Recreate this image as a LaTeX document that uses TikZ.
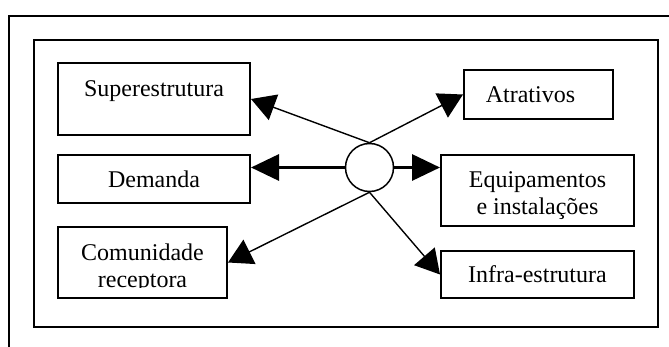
\documentclass[tikz,border=0pt]{standalone}
\usepackage{fontspec}
\setmainfont{Liberation Serif}
\usepackage{tikz}
\usetikzlibrary{shapes,arrows.meta,positioning,calc}

\begin{document}
\begin{tikzpicture}[x=1pt, y=-1pt,
    tbox/.style={rectangle, draw, line width=2pt, inner sep=0pt, align=center, font=\fontsize{24}{27}\selectfont},
    link/.style={-{Triangle[length=24pt, width=27pt]}, line width=1.4pt},
    biglink/.style={-{Triangle[length=28pt, width=26pt]}, line width=3.2pt}]

    \clip (0,0) rectangle (669,347);
    \draw[line width=2.3pt] (9.3,15.7) rectangle (700,380);
    \draw[line width=2.2pt] (34,40) rectangle (658,327);

    \node[tbox, minimum width=192pt, minimum height=72pt, text height=17pt, text depth=22pt] (sup) at (154,99) {Superestrutura};
    \node[tbox, minimum width=192pt, minimum height=48pt] (dem) at (154,179) {Demanda};
    \begin{scope}[even odd rule]
        \clip (0,0) rectangle (669,347) (59.5,287.5) rectangle (225.5,297);
        \node[tbox, minimum width=169pt, minimum height=71pt] (com) at (142.5,262.5) {\rule{0pt}{28.5pt}Comunidade\\receptora};
    \end{scope}
    \node[tbox, minimum width=149pt, minimum height=49pt] (atr) at (538.5,94.5) {\hspace*{-16pt}Atrativos};
    \node[tbox, minimum width=193pt, minimum height=71pt] (equ) at (537.5,190.5) {\rule{0pt}{26pt}Equipamentos\\e instalações};
    \node[tbox, minimum width=193pt, minimum height=47pt] (inf) at (537.5,274.5) {Infra-estrutura};

    \node[circle, draw, line width=1.5pt, minimum size=48pt, inner sep=0pt] (hub) at (369.5,167.5) {};

    \draw[link] (hub.north) -- (sup.east);
    \draw[link] (hub.north) -- (atr.west);
    \draw[biglink] (hub.west) -- (hub.west -| dem.east);
    \draw[biglink] (hub.east) -- (hub.east -| equ.west);
    \draw[link] (hub.south) -- (com.east);
    \draw[link] (hub.south) -- (inf.west);
\end{tikzpicture}
\end{document}
